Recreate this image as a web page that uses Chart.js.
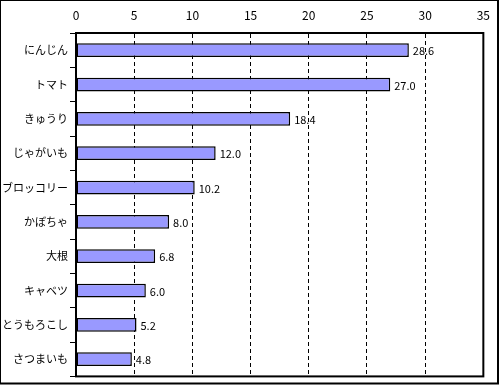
<!DOCTYPE html>
<html>
<head>
<meta charset="utf-8">
<script src="https://cdn.jsdelivr.net/npm/chart.js@4.4.1/dist/chart.umd.min.js"></script>
<style>
  html, body { margin: 0; padding: 0; background: #fff; }
  #wrap { position: relative; width: 500px; height: 385px; }
</style>
</head>
<body>
<div id="wrap"><canvas id="c" width="500" height="385"></canvas></div>
<script>
const vegetables = ['にんじん', 'トマト', 'きゅうり', 'じゃがいも', 'ブロッコリー', 'かぼちゃ', '大根', 'キャベツ', 'とうもろこし', 'さつまいも'];
const shares = [28.6, 27.0, 18.4, 12.0, 10.2, 8.0, 6.8, 6.0, 5.2, 4.8];
const xTicks = [0, 5, 10, 15, 20, 25, 30, 35];

const FONT = "'Noto Sans CJK JP', 'Liberation Sans', sans-serif";

// frame around the plot area + outer picture border + value labels
const decorations = {
  id: 'decorations',
  afterDatasetsDraw(chart) {
    const { ctx } = chart;
    const meta = chart.getDatasetMeta(0);
    ctx.save();
    ctx.fillStyle = '#000';
    ctx.font = '11px ' + FONT;
    ctx.textAlign = 'left';
    ctx.textBaseline = 'middle';
    meta.data.forEach((bar, i) => {
      ctx.fillText(shares[i].toFixed(1), bar.x + 4, bar.y + 1);
    });
    ctx.restore();
  },
  afterDraw(chart) {
    const { ctx, chartArea: a } = chart;
    ctx.save();
    ctx.strokeStyle = '#000';
    ctx.lineWidth = 2;
    ctx.strokeRect(a.left, a.top, a.right - a.left, a.bottom - a.top);
    ctx.lineWidth = 1;
    ctx.beginPath();
    ctx.moveTo(0.5, 0.5);
    ctx.lineTo(0.5, 384);
    ctx.moveTo(0, 0.5);
    ctx.lineTo(499, 0.5);
    ctx.stroke();
    ctx.lineWidth = 2;
    ctx.beginPath();
    ctx.moveTo(498, 0);
    ctx.lineTo(498, 384);
    ctx.moveTo(0, 383.5);
    ctx.lineTo(499, 383.5);
    ctx.stroke();
    ctx.restore();
  }
};

new Chart(document.getElementById('c'), {
  type: 'bar',
  data: {
    labels: vegetables,
    datasets: [{
      data: shares,
      backgroundColor: '#9999ff',
      borderColor: '#000',
      borderWidth: 1.5,
      borderSkipped: false,
      categoryPercentage: 1,
      barPercentage: 0.4
    }]
  },
  options: {
    indexAxis: 'y',
    responsive: false,
    animation: false,
    events: [],
    layout: { padding: { top: 0, left: 0, right: 13, bottom: 5 } },
    plugins: { legend: { display: false }, tooltip: { enabled: false } },
    scales: {
      x: {
        position: 'top',
        min: 0,
        max: 35,
        afterFit: s => { s.height = 33; },
        afterBuildTicks: s => { s.ticks = xTicks.map(v => ({ value: v })); },
        grid: { color: '#000', lineWidth: 1, drawTicks: false },
        border: { display: true, color: '#000', width: 2, dash: [4, 3] },
        ticks: { color: '#000', font: { family: FONT, size: 12 }, padding: 10, maxRotation: 0 }
      },
      y: {
        afterFit: s => { s.width = 76; },
        grid: { drawOnChartArea: false, drawTicks: true, tickLength: 6, color: '#000', lineWidth: 1 },
        border: { display: true, color: '#000', width: 2 },
        ticks: { color: '#000', font: { family: FONT, size: 11 }, padding: 2 }
      }
    }
  },
  plugins: [decorations]
});
</script>
</body>
</html>
